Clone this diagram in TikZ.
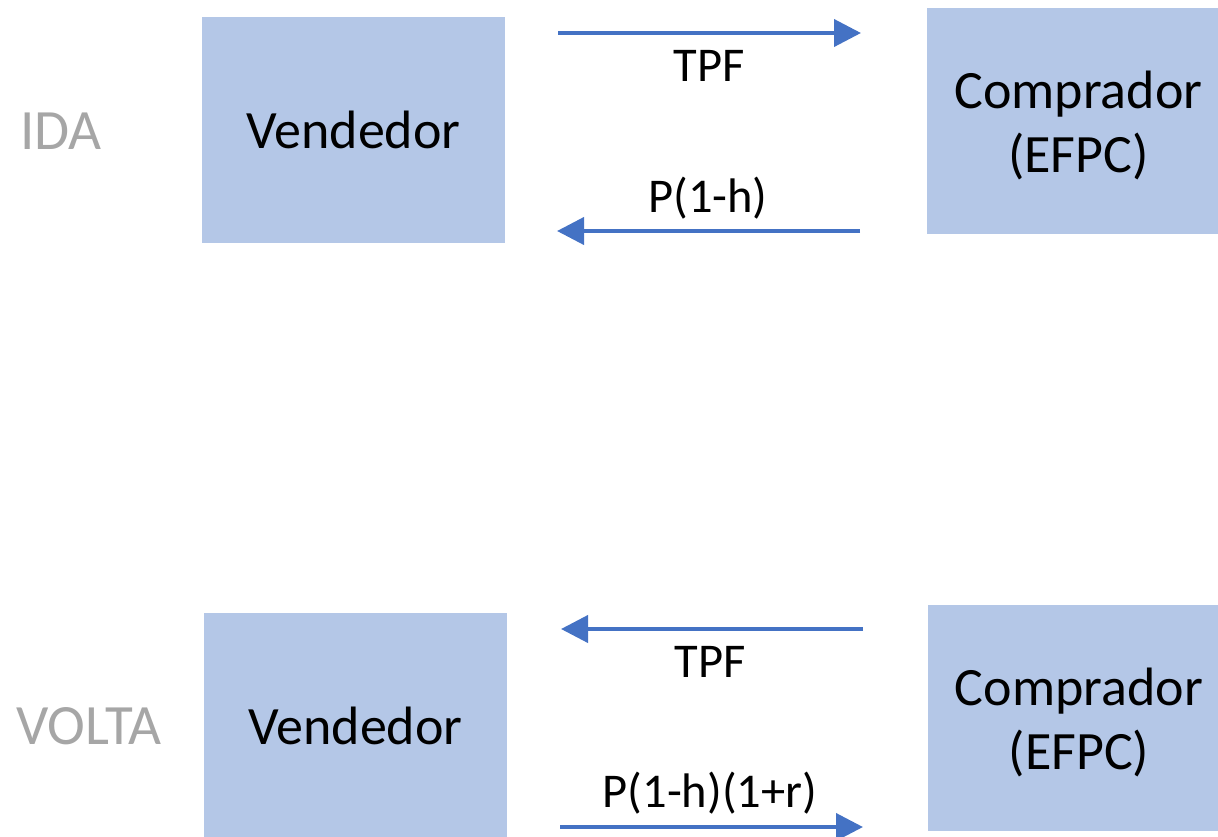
\documentclass[tikz,border=0pt]{standalone}
\usepackage{fontspec}
\setmainfont{Carlito}
\usetikzlibrary{arrows.meta}
\definecolor{boxfill}{HTML}{B4C7E7}
\definecolor{flow}{HTML}{4472C4}
\definecolor{stage}{HTML}{A6A6A6}
\begin{document}
\begin{tikzpicture}[x=1pt,y=-1pt,
  party/.style={rectangle, fill=boxfill, draw=none, minimum width=303pt,
    minimum height=226pt, inner sep=0pt, align=center,
    font=\fontsize{54}{64}\selectfont},
  partytext/.style={inner sep=0pt, align=center,
    font=\fontsize{54}{64}\selectfont},
  stagelabel/.style={anchor=base, inner sep=0pt, text=stage,
    font=\fontsize{57}{66}\selectfont},
  flowlabel/.style={anchor=base, inner sep=0pt,
    font=\fontsize{48.5}{58}\selectfont},
  flowarrow/.style={draw=flow, line width=4pt,
    -{Triangle[length=27pt,width=27pt]}}]
\useasboundingbox (0,0) rectangle (1218,836);

% ---- IDA ----
\node[stagelabel] (ida) at (61,149) {IDA};
\node[party] (vend1) at (353.5,130) {Vendedor};
\node[party] (comp1) at (1078.5,121) {};
\node[partytext] (comp1t) at ([yshift=-4pt]comp1.center) {Comprador\\(EFPC)};
\coordinate (a1s) at (558,33);
\coordinate (a1e) at (861,33);
\coordinate (a2s) at (860,231);
\coordinate (a2e) at (557,231);
\draw[flowarrow] (a1s) -- (a1e);
\draw[flowarrow] (a2s) -- (a2e);
\node[flowlabel] (tpf1) at (709,81) {TPF};
\node[flowlabel] (p1) at (708,212) {P(1-h)};

% ---- VOLTA ----
\node[stagelabel] (volta) at (89,744) {VOLTA};
\node[party] (vend2) at (355.5,726) {Vendedor};
\node[party] (comp2) at (1079,718) {};
\node[partytext] (comp2t) at ([yshift=-4pt]comp2.center) {Comprador\\(EFPC)};
\coordinate (b1s) at (863,629);
\coordinate (b1e) at (561,629);
\coordinate (b2s) at (560,827);
\coordinate (b2e) at (863,827);
\draw[flowarrow] (b1s) -- (b1e);
\draw[flowarrow] (b2s) -- (b2e);
\node[flowlabel] (tpf2) at (710,677) {TPF};
\node[flowlabel] (p2) at (710,807) {P(1-h)(1+r)};
\end{tikzpicture}
\end{document}
